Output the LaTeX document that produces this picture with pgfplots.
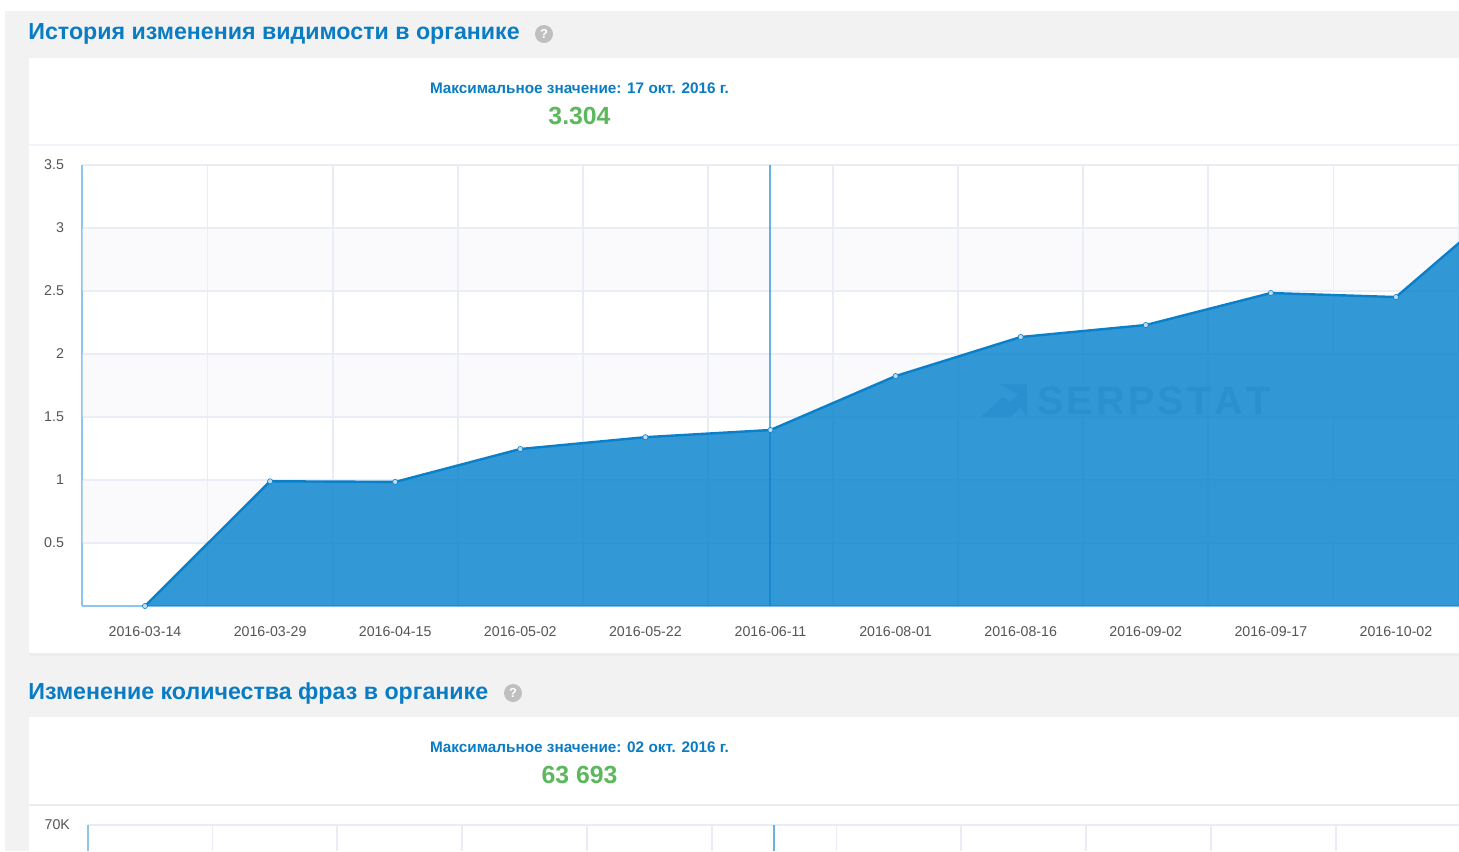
\documentclass[border=0pt]{standalone}
\usepackage{fontspec}
\setmainfont{Liberation Sans}
\usepackage{pgfplots}
\pgfplotsset{compat=1.18}
\usepackage{pgfplotstable}
\definecolor{panel}{HTML}{F2F2F2}
\definecolor{titleblue}{HTML}{0A7CC4}
\definecolor{linec}{HTML}{0A7FCA}
\definecolor{fillc}{HTML}{0080CC}
\definecolor{gridc}{HTML}{E9ECF5}
\definecolor{axisc}{HTML}{8CC6EC}
\definecolor{bandc}{HTML}{F1F3F8}
\definecolor{greenv}{HTML}{5CB85C}
\definecolor{ticktxt}{HTML}{555555}
\definecolor{wmark}{HTML}{2B90CF}
\pgfplotstableread{
idx val
0 0
1 0.99
2 0.985
3 1.246
4 1.34
5 1.397
6 1.825
7 2.135
8 2.23
9 2.484
10 2.452
11 3.304
}\visibility
\pgfplotsset{
  cardaxis/.style={
    scale only axis, anchor=south west,
    axis lines=left, axis line style={-,color=axisc,line width=0.7pt},
    major tick length=0pt, minor tick length=0pt,
    ymajorgrids=true, xminorgrids=true,
    grid style={color=gridc,line width=0.9pt},
    minor grid style={color=gridc,line width=0.9pt},
    minor xtick={0.5,1.5,...,10.5},
    scaled y ticks=false,
    tick label style={font=\fontsize{7.1}{8}\selectfont,color=ticktxt},
    /pgf/number format/assume math mode=true,
  }
}
\begin{document}
\begin{tikzpicture}[x=0.5pt,y=-0.5pt]
\path[use as bounding box,fill=white] (0,0) rectangle (1459,851);
\fill[panel] (5,11) rectangle (1459,851);
% cards
\fill[black!7] (29,650) rectangle (1459,656);
\fill[white] (29,58) rectangle (1459,653);
\fill[white] (29,717) rectangle (1459,851);
\draw[gridc!60!white,line width=1pt] (29,145) -- (1459,145);
\draw[gridc,line width=1pt] (29,805) -- (1459,805);
% headings
\node[anchor=west,inner sep=0pt,text=titleblue,font=\fontsize{11.6}{14}\selectfont\bfseries] at (28,34) {История изменения видимости в органике};
\fill[black!25] (544,34) circle (9);
\node[text=white,inner sep=0pt,font=\fontsize{6.5}{7}\selectfont\bfseries] at (544,34) {?};
\node[anchor=west,inner sep=0pt,text=titleblue,font=\fontsize{11.6}{14}\selectfont\bfseries] at (28,693) {Изменение количества фраз в органике};
\fill[black!25] (513,693) circle (9);
\node[text=white,inner sep=0pt,font=\fontsize{6.5}{7}\selectfont\bfseries] at (513,693) {?};
\node[inner sep=0pt,text=titleblue,font=\fontsize{7.65}{9}\selectfont\bfseries] at (579.5,88.5) {Максимальное значение: 17 окт. 2016 г.};
\node[inner sep=0pt,text=greenv,font=\fontsize{12.4}{14}\selectfont\bfseries] at (579.5,115.5) {3.304};
\node[inner sep=0pt,text=titleblue,font=\fontsize{7.65}{9}\selectfont\bfseries] at (579.5,747.5) {Максимальное значение: 02 окт. 2016 г.};
\node[inner sep=0pt,text=greenv,font=\fontsize{12.4}{14}\selectfont\bfseries] at (579.5,775) {63 693};

\begin{axis}[cardaxis,
  at={(41pt,-303pt)}, width=688.5pt, height=220.5pt,
  xmin=-0.5036, xmax=10.504, ymin=0, ymax=3.5,
  xtick={0,...,10},
  xticklabels={2016-03-14,2016-03-29,2016-04-15,2016-05-02,2016-05-22,2016-06-11,2016-08-01,2016-08-16,2016-09-02,2016-09-17,2016-10-02},
  ytick={0.5,1,1.5,2,2.5,3,3.5},
  yticklabels={0.5,1,1.5,2,2.5,3,3.5},
  xticklabel style={yshift=-7pt},
  yticklabel style={xshift=-5.5pt},
]
\addplot[fill=bandc,draw=none,opacity=0.35,forget plot] coordinates {(-1,2.5)(12,2.5)(12,3)(-1,3)} --cycle;
\addplot[fill=bandc,draw=none,opacity=0.35,forget plot] coordinates {(-1,1.5)(12,1.5)(12,2)(-1,2)} --cycle;
\addplot[fill=bandc,draw=none,opacity=0.35,forget plot] coordinates {(-1,0.5)(12,0.5)(12,1)(-1,1)} --cycle;
\addplot[draw=none,fill=fillc,fill opacity=0.8,forget plot] table[x=idx,y=val] {\visibility} \closedcycle;
\node[anchor=west,inner sep=0pt,text=wmark,font=\fontsize{19.8}{20}\selectfont\bfseries] at (axis cs:7.13,1.63) {S\kern1.6pt E\kern1.6pt R\kern1.6pt P\kern1.6pt S\kern1.6pt T\kern1.6pt A\kern1.6pt T};
\fill[wmark] (axis cs:6.68,1.5) -- (axis cs:6.86,1.66) -- (axis cs:6.92,1.62) -- (axis cs:6.98,1.68) -- (axis cs:6.83,1.76) -- (axis cs:7.05,1.76) -- (axis cs:7.05,1.5) -- (axis cs:7.0,1.58) -- (axis cs:6.92,1.5) -- cycle;
\addplot[linec,line width=1.2pt,mark=*,mark size=1.3pt,mark options={fill=axisc!60!white,draw=linec,line width=0.3pt},forget plot] table[x=idx,y=val] {\visibility};
\addplot[color=fillc,opacity=0.6,line width=1pt,forget plot] coordinates {(5,0)(5,3.5)};
\end{axis}

\begin{axis}[cardaxis,
  at={(44pt,-425.5pt)}, width=685.5pt, height=13pt,
  xmin=-0.4968, xmax=10.4888, ymin=65873, ymax=70000,
  xtick={0,...,10}, xticklabels={},
  ytick={70000}, yticklabels={70K},
  x axis line style={draw=none},
  yticklabel style={xshift=-5.5pt},
  clip=true,
]
\addplot[draw=none,forget plot] coordinates {(10,63693)};
\addplot[color=fillc,opacity=0.6,line width=1pt,forget plot] coordinates {(5,65873)(5,70000)};
\end{axis}
\end{tikzpicture}
\end{document}
